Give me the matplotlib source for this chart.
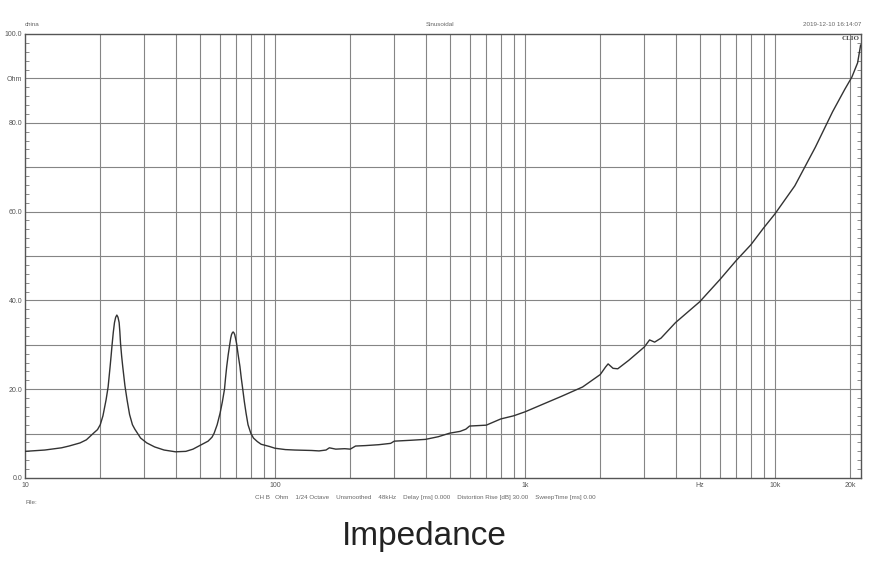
import numpy as np
import matplotlib
matplotlib.use('Agg')
import matplotlib.pyplot as plt
from matplotlib.ticker import FixedLocator, NullFormatter

plt.rcParams['font.family'] = ['Liberation Sans', 'DejaVu Sans']

# impedance curve (Hz, Ohm)
freq = [10, 12, 14, 15, 16.6, 17.6, 18.8, 19.5, 20, 20.5, 21.1, 21.5, 21.9,
        22.1, 22.3, 22.55, 22.8, 23.05, 23.3, 23.55, 23.8, 23.95, 24.1, 24.35,
        24.6, 25.1, 25.6, 26.2, 26.9, 27.5, 29, 30.7, 33, 36, 40, 44, 47, 49.2,
        54, 56, 57.1, 58.7, 60.3, 61.6, 62.8, 63.4, 64.1, 65, 66, 66.5, 67,
        67.5, 68, 68.5, 69, 69.5, 70.2, 71.2, 72.4, 73.3, 74.3, 75.4, 76.6, 78,
        80, 82, 85, 88, 95,
        100, 110, 120, 140, 150, 160, 165, 175, 190, 200, 210, 230,
        260, 290, 300, 350, 400, 450, 500, 550, 580, 600, 700, 800, 900, 1000,
        1200, 1400, 1700, 2000, 2100, 2150, 2250, 2350, 2600, 3000, 3150, 3300,
        3500, 4000, 5000, 6000, 7000, 8000, 9000, 10000, 12000, 14500, 17000,
        19000, 20300, 21400, 22000]
ohm = [6.0, 6.3, 6.8, 7.2, 7.9, 8.6, 10.1, 10.9, 12.0, 14.0, 17.6, 20.5, 25.1,
       27.5, 30.0, 32.8, 35.0, 36.2, 36.7, 36.2, 35.0, 33.0, 30.4, 27.5, 25.1,
       20.8, 17.6, 14.3, 12.0, 11.0, 9.0, 7.9, 7.0, 6.3, 5.9, 6.0, 6.5, 7.1,
       8.3, 9.2, 10.1, 12.0, 14.6, 17.2, 20.0, 22.5, 25.1, 27.8, 30.3, 31.5,
       32.3, 32.7, 32.9, 32.7, 32.3, 31.5, 30.3, 27.8, 25.1, 22.5, 20.0, 17.2,
       14.6, 12.0, 10.1, 9.0, 8.2, 7.6, 7.1,
       6.7, 6.4, 6.3, 6.2, 6.1, 6.3, 6.8, 6.5, 6.6, 6.5,
       7.2, 7.3, 7.5, 7.8, 8.3, 8.5, 8.7, 9.3, 10.1, 10.5, 11.0, 11.7, 11.9,
       13.3, 14.0, 14.9, 16.8, 18.4, 20.5, 23.3, 25.0, 25.7, 24.7, 24.6, 26.5,
       29.5, 31.1, 30.6, 31.5, 35.0, 39.7, 44.6, 49.0, 52.5, 56.3, 59.5, 65.8,
       74.5, 82.5, 87.5, 90.3, 93.5, 97.5]

x_grid = [20, 30, 40, 50, 60, 70, 80, 90, 100, 200, 300, 400, 500, 600, 700,
          800, 900, 1000, 2000, 3000, 4000, 5000, 6000, 7000, 8000, 9000, 10000, 20000]
x_labels = {10: "10", 100: "100", 1000: "1k", 5000: "Hz", 10000: "10k", 20000: "20k"}
y_labels = {0: "0.0", 20: "20.0", 40: "40.0", 60: "60.0", 80: "80.0", 90: "Ohm", 100: "100.0"}

fig = plt.figure(figsize=(8.85, 5.8), dpi=100)
ax = fig.add_axes([25/885, 1-478/580, 836/885, 444/580])

ax.set_xscale('log')
ax.set_xlim(10, 22080)
ax.set_ylim(0, 100)

gc = "#858585"
for f in x_grid:
    ax.axvline(f, color=gc, lw=0.8, zorder=1)
for v in range(10, 100, 10):
    ax.axhline(v, color=gc, lw=0.8, zorder=1)

ax.plot(freq, ohm, color="#333333", lw=1.0, zorder=3)

for s in ax.spines.values():
    s.set_color("#555555")
    s.set_linewidth(1.0)

ax.xaxis.set_major_locator(FixedLocator(list(x_labels.keys())))
ax.set_xticklabels(list(x_labels.values()))
ax.xaxis.set_minor_formatter(NullFormatter())
ax.xaxis.set_minor_locator(FixedLocator([]))
ax.tick_params(axis='x', length=0, labelsize=5, colors="#555555", pad=3)

ax.yaxis.set_major_locator(FixedLocator(list(y_labels.keys())))
ax.set_yticklabels(list(y_labels.values()))
ax.yaxis.set_minor_locator(FixedLocator([v for v in range(2, 100, 2)]))
ax.tick_params(axis='y', which='major', length=0, labelsize=5, colors="#555555", pad=2)
ax.tick_params(axis='y', which='minor', direction='in', length=3, width=0.6,
               color="#777777", left=True, right=True)

tc = "#666666"
fig.text(25/885, 1-25/580, "china", fontsize=4.5, color=tc, va='center')
fig.text(440/885, 1-25/580, "Sinusoidal", fontsize=4.5, color=tc, ha='center', va='center')
fig.text(861/885, 1-25/580, "2019-12-10 16:14:07", fontsize=4.5, color=tc, ha='right', va='center')
ax.text(0.998, 0.995, "CLIO", transform=ax.transAxes, fontsize=5, fontweight='bold',
        family='Liberation Serif', color="#444444", ha='right', va='top')

fig.text(425/885, 1-497/580,
         "CH B   Ohm    1/24 Octave    Unsmoothed    48kHz    Delay [ms] 0.000    "
         "Distortion Rise [dB] 30.00    SweepTime [ms] 0.00",
         fontsize=4.5, color=tc, ha='center', va='center')
fig.text(25/885, 1-503/580, "File:", fontsize=4.5, color=tc, va='center')

fig.text(424/885, 1-537/580, "Impedance", fontsize=24, color="#222222",
         ha='center', va='center')

fig.savefig("out.png", dpi=100)
